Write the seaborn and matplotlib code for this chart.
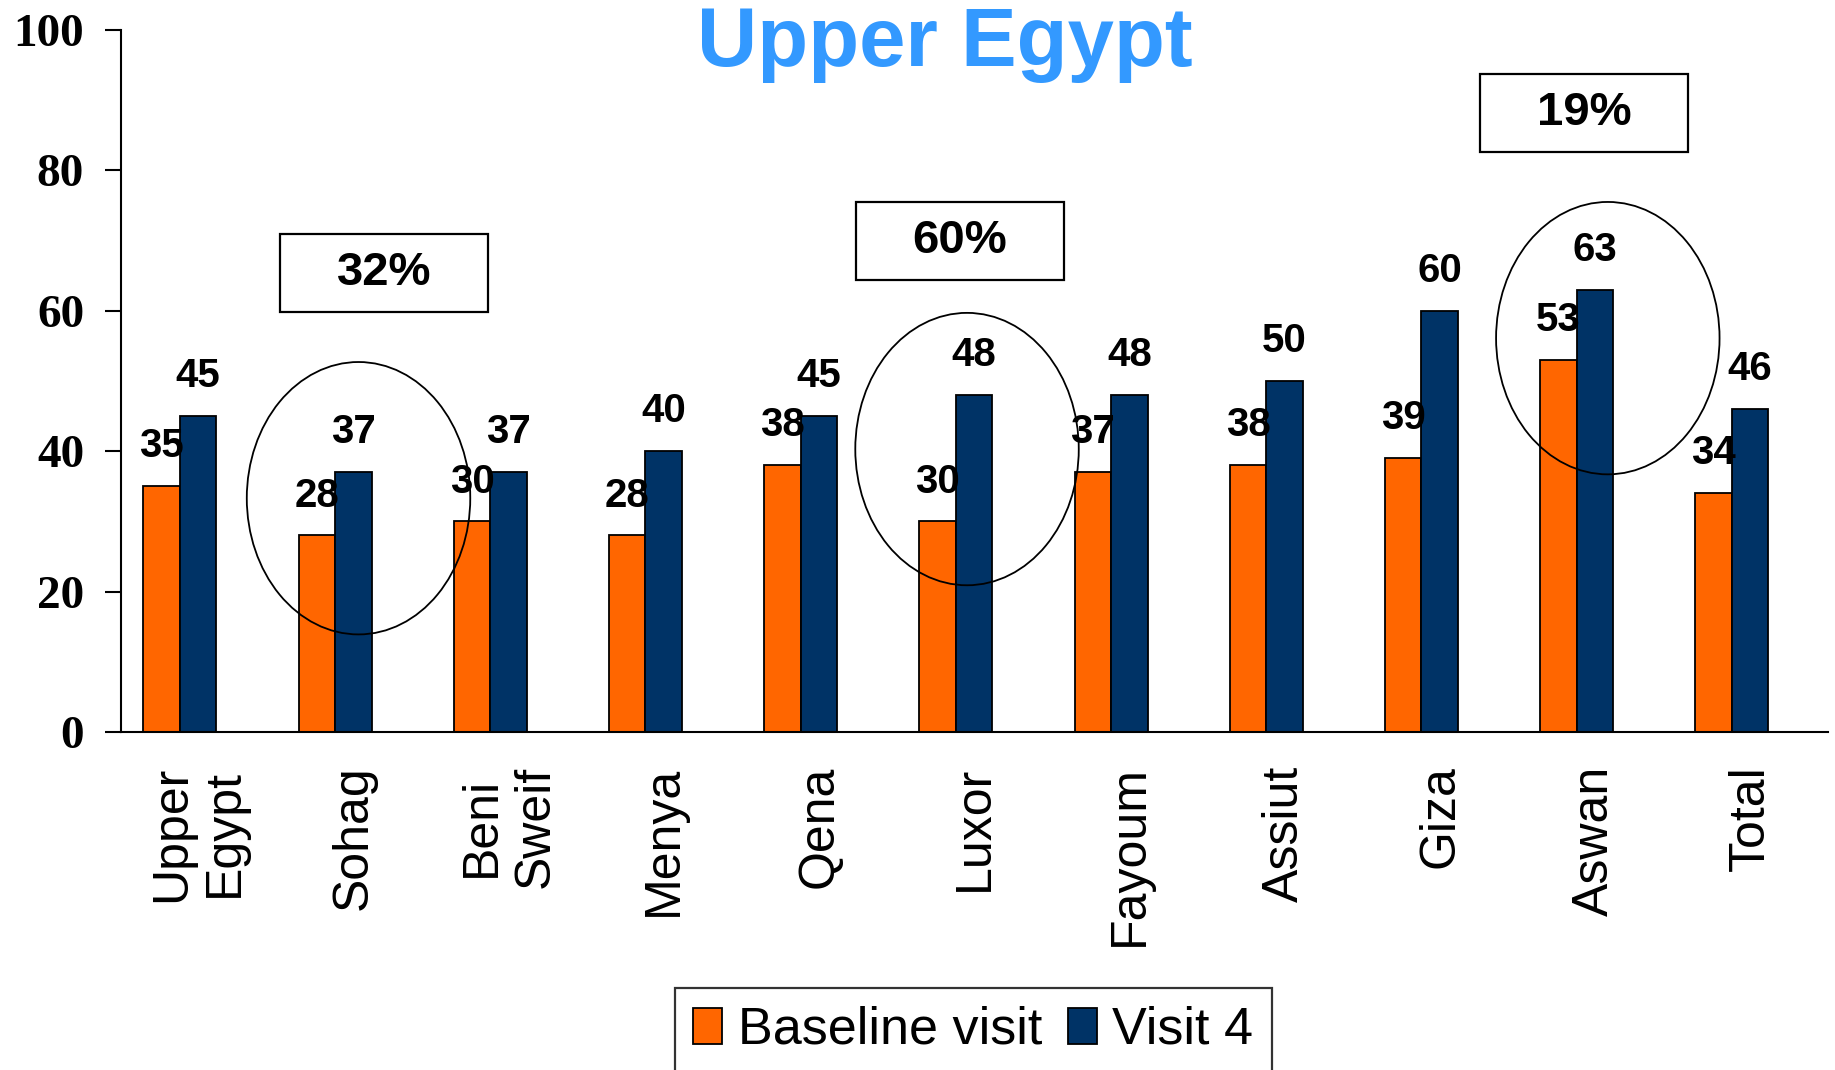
import numpy as np
import pandas as pd
import matplotlib
matplotlib.use('Agg')
import matplotlib.pyplot as plt
import seaborn as sns
from matplotlib.patches import Ellipse, Rectangle

# data
regions = ['Upper\nEgypt', 'Sohag', 'Beni\nSweif', 'Menya', 'Qena', 'Luxor',
           'Fayoum', 'Assiut', 'Giza', 'Aswan', 'Total']
baseline = [35, 28, 30, 28, 38, 30, 37, 38, 39, 53, 34]
visit4 = [45, 37, 37, 40, 45, 48, 48, 50, 60, 63, 46]
series = ['Baseline visit', 'Visit 4']
colors = ['#FF6600', '#003366']

# boxed change figures and the rings round them
callout_text = ['32%', '60%', '19%']
callout_x = [1.317, 5.027, 9.047]
callout_y = [65.4, 69.9, 88.2]
ring_x = [1.151, 5.072, 9.201]
ring_y = [33.3, 40.3, 56.1]

df = pd.DataFrame({
    'region': regions * 2,
    'value': baseline + visit4,
    'visit': [series[0]] * len(regions) + [series[1]] * len(regions),
})

sns.set_style('white')
plt.rcParams['font.family'] = ['Liberation Sans', 'DejaVu Sans']
plt.rcParams['text.color'] = 'black'
plt.rcParams['xtick.color'] = 'black'
plt.rcParams['ytick.color'] = 'black'
plt.rcParams['axes.labelcolor'] = 'black'

fig = plt.figure(figsize=(18.35, 10.70), dpi=100)
ax = fig.add_axes([0.0659, 0.3159, 0.9303, 0.6561])

sns.barplot(data=df, x='region', y='value', hue='visit', palette=colors,
            width=0.47, saturation=1, edgecolor='black', linewidth=1.3, ax=ax)

for cont in ax.containers:
    ax.bar_label(cont, fmt='%d', padding=15, fontsize=29, fontweight='bold',
                 color='black')

n = len(regions)
off = 0.12
ax.set_xlim(-0.5 + off, n - 0.5 + off)
ax.set_ylim(0, 100)
ax.set_yticks([0, 20, 40, 60, 80, 100])
ax.set_yticklabels(['0', '20', '40', '60', '80', '100'],
                   fontfamily='Liberation Serif', fontweight='bold', fontsize=34)

ax.set_xticks(np.arange(n) + off)
ax.set_xticklabels(regions, rotation=90, fontsize=36, ha='center', va='top',
                   multialignment='center')
ax.set_xticks(np.arange(n + 1) - 0.5 + off, minor=True)
ax.tick_params(axis='x', which='major', length=0, pad=24)
ax.tick_params(axis='x', which='minor', length=12, width=1.5, color='black',
               direction='out')
ax.tick_params(axis='y', length=11.5, width=1.5, color='black', direction='out',
               pad=15, left=True)
ax.set_xlabel('')
ax.set_ylabel('')

for s in ['top', 'right']:
    ax.spines[s].set_visible(False)
for s in ['left', 'bottom']:
    ax.spines[s].set_color('black')
    ax.spines[s].set_linewidth(1.5)

for t, x, y in zip(callout_text, callout_x, callout_y):
    ax.add_patch(Rectangle((x - 0.671, y - 5.58), 1.342, 11.17, fill=False,
                           edgecolor='black', linewidth=1.6, clip_on=False))
    ax.text(x, y, t, ha='center', va='center', fontsize=34, fontweight='bold')

for x, y in zip(ring_x, ring_y):
    ax.add_patch(Ellipse((x, y), 1.44, 38.8, fill=False, edgecolor='black',
                         linewidth=1.3, clip_on=False))

fig.text(0.515, 1 - 66 / 1070, 'Upper Egypt', ha='center', va='baseline',
         fontsize=60, fontweight='bold', color='#3399FF')

handles, labels = ax.get_legend_handles_labels()
ax.legend_.remove()
leg = fig.legend(handles, labels, loc='lower center', bbox_to_anchor=(0.5305, -0.003),
                 ncol=2, fontsize=37.5, frameon=True, fancybox=False,
                 handlelength=0.55, handleheight=0.7, handletextpad=0.3,
                 columnspacing=0.5, borderpad=0.35, borderaxespad=0)
leg.get_frame().set_edgecolor('black')
leg.get_frame().set_linewidth(1.6)

fig.savefig('out.png', dpi=100)
